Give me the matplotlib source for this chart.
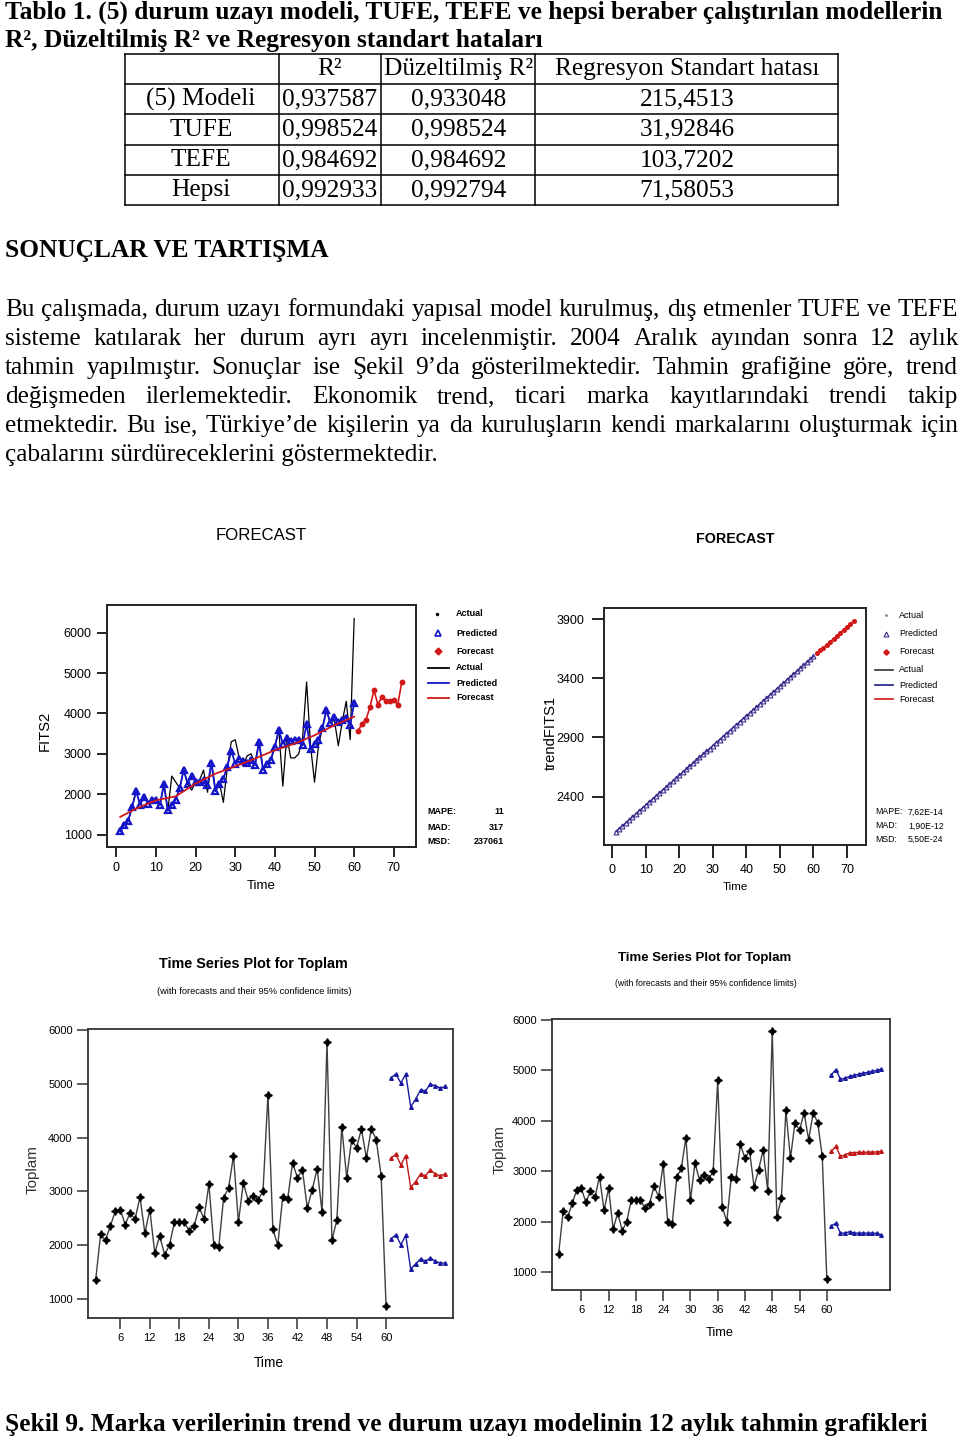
import numpy as np
import matplotlib
matplotlib.use("Agg")
import matplotlib.pyplot as plt
from matplotlib.lines import Line2D
from matplotlib import font_manager

# ---------------- data ----------------
table_header = ["", "R²", "Düzeltilmiş R²", "Regresyon Standart hatası"]
table_rows = ["(5) Modeli", "TUFE", "TEFE", "Hepsi"]
r2_vals = ["0,937587", "0,998524", "0,984692", "0,992933"]
adj_r2_vals = ["0,933048", "0,998524", "0,984692", "0,992794"]
se_vals = ["215,4513", "31,92846", "103,7202", "71,58053"]

time_obs = np.arange(1, 61)
time_fc = np.arange(61, 73)

fits2_actual = [1080, 1250, 1340, 1700, 2080, 1750, 1930, 1780, 1850, 1870,
                1740, 2250, 1600, 2450, 2300, 2150, 2600, 2250, 2100, 2300,
                2350, 2600, 2050, 2800, 2100, 2300, 1800, 2650, 3300, 3350,
                2900, 2700, 2950, 3000, 2750, 3300, 2650, 2750, 2850, 3200,
                3600, 2200, 3450, 2900, 2900, 3000, 3400, 4780, 3200, 2300,
                3200, 3650, 4100, 3750, 3850, 3200, 3800, 4300, 3350, 6350]
fits2_pred = [1080, 1250, 1340, 1690, 2075, 1745, 1935, 1770, 1850, 1870,
              1730, 2250, 1600, 1730, 1870, 2160, 2600, 2265, 2450, 2305,
              2305, 2350, 2220, 2775, 2075, 2265, 2390, 2680, 3075, 2760,
              2885, 2825, 2785, 2845, 2720, 3300, 2600, 2760, 2860, 3175,
              3585, 3255, 3400, 3315, 3340, 3355, 3215, 3750, 3115, 3240,
              3355, 3630, 4080, 3775, 3915, 3790, 3850, 3900, 3710, 4265]
fits2_trend_t = [1, 5, 10, 15, 20, 25, 30, 35, 40, 45, 50, 55, 60]
fits2_trend = [1440, 1645, 1850, 1950, 2265, 2510, 2690, 2885, 3090, 3255, 3460, 3710, 3920]
fits2_fc = [3570, 3750, 3850, 4165, 4570, 4220, 4415, 4315, 4315, 4330, 4220, 4770]

trend_pred = [2104, 2129, 2154, 2179, 2204, 2229, 2254, 2280, 2305, 2330,
              2355, 2380, 2405, 2430, 2455, 2480, 2505, 2530, 2555, 2581,
              2606, 2631, 2656, 2681, 2706, 2731, 2756, 2781, 2806, 2831,
              2856, 2882, 2907, 2932, 2957, 2982, 3007, 3032, 3057, 3082,
              3107, 3132, 3157, 3182, 3208, 3233, 3258, 3283, 3308, 3333,
              3358, 3383, 3408, 3433, 3458, 3483, 3508, 3533, 3559, 3584]
trend_fc = [3609, 3634, 3659, 3684, 3709, 3734, 3759, 3784, 3810, 3835, 3860, 3885]

toplam = [1350, 2200, 2090, 2360, 2630, 2660, 2380, 2600, 2480, 2890,
          2220, 2660, 1850, 2170, 1820, 2000, 2430, 2430, 2430, 2260,
          2350, 2700, 2490, 3130, 2000, 1960, 2880, 3060, 3660, 2420,
          3160, 2820, 2920, 2840, 3000, 4800, 2290, 2000, 2890, 2850,
          3530, 3250, 3400, 2690, 3030, 3420, 2610, 5780, 2090, 2460,
          4200, 3250, 3960, 3810, 4160, 3620, 4160, 3960, 3290, 860]

left_fc = [3615, 3690, 3490, 3665, 3070, 3180, 3320, 3290, 3400, 3320, 3290, 3320]
left_upper = [5114, 5180, 5015, 5180, 4575, 4710, 4885, 4870, 4990, 4965, 4920, 4950]
left_lower = [2115, 2190, 2005, 2180, 1550, 1650, 1740, 1695, 1760, 1695, 1665, 1665]

right_fc = [3390, 3490, 3290, 3320, 3360, 3365, 3370, 3370, 3375, 3375, 3380, 3390]
right_upper = [4910, 5010, 4820, 4840, 4875, 4895, 4920, 4940, 4955, 4975, 4995, 5020]
right_lower = [1915, 1965, 1770, 1770, 1800, 1770, 1770, 1770, 1770, 1770, 1765, 1735]

fits2_stats = [("MAPE:", "11"), ("MAD:", "317"), ("MSD:", "237061")]
trend_stats = [("MAPE:", "7,62E-14"), ("MAD:", "1,90E-12"), ("MSD:", "5,50E-24")]

title_line1 = "Tablo 1. (5) durum uzayı modeli, TUFE, TEFE ve hepsi beraber çalıştırılan modellerin"
title_line2 = "R², Düzeltilmiş R² ve Regresyon standart hataları"
heading = "SONUÇLAR VE TARTIŞMA"
body_lines = [
    "Bu çalışmada, durum uzayı formundaki yapısal model kurulmuş, dış etmenler TUFE ve TEFE",
    "sisteme katılarak her durum ayrı ayrı incelenmiştir. 2004 Aralık ayından sonra 12 aylık",
    "tahmin yapılmıştır. Sonuçlar ise Şekil 9’da gösterilmektedir. Tahmin grafiğine göre, trend",
    "değişmeden ilerlemektedir. Ekonomik trend, ticari marka kayıtlarındaki trendi takip",
    "etmektedir. Bu ise, Türkiye’de kişilerin ya da kuruluşların kendi markalarını oluşturmak için",
    "çabalarını sürdüreceklerini göstermektedir.",
]
caption = "Şekil 9. Marka verilerinin trend ve durum uzayı modelinin 12 aylık tahmin grafikleri"

# ---------------- setup ----------------
W, H = 960, 1442
fig = plt.figure(figsize=(W / 100, H / 100), dpi=100)
fig.patch.set_facecolor("white")
renderer = fig.canvas.get_renderer()

names = {f.name for f in font_manager.fontManager.ttflist}
SERIF = ["Liberation Serif", "DejaVu Serif"]
NARROW = ["Liberation Sans Narrow", "Liberation Sans"] if "Liberation Sans Narrow" in names else ["Liberation Sans"]


def fx(x):
    return x / W


def fy(y):
    return 1 - y / H


def put(x, y, s, size, family=SERIF, ha="left", va="center", **kw):
    return fig.text(fx(x), fy(y), s, fontsize=size, family=family, ha=ha, va=va, **kw)


def fit(x, y, s, width, family=SERIF, ha="left", va="center", rotation=0, size0=12, **kw):
    t = put(x, y, s, size0, family=family, ha=ha, va=va, **kw)
    w = t.get_window_extent(renderer).width
    t.set_fontsize(size0 * width / w)
    t.set_rotation(rotation)
    return t


def fit_size(s, width, family=SERIF, size0=12, **kw):
    t = fig.text(0, 0, s, fontsize=size0, family=family, **kw)
    w = t.get_window_extent(renderer).width
    t.remove()
    return size0 * width / w


def hline(x0, x1, y, lw=1.0, color="black"):
    fig.add_artist(Line2D([fx(x0), fx(x1)], [fy(y), fy(y)], lw=lw, color=color, transform=fig.transFigure))


def vline(x, y0, y1, lw=1.0, color="black"):
    fig.add_artist(Line2D([fx(x), fx(x)], [fy(y0), fy(y1)], lw=lw, color=color, transform=fig.transFigure))


# ---------------- document text ----------------
fit(5, 12, title_line1, 933, weight="bold")
fit(5, 40, title_line2, 533, weight="bold")
fit(5, 250, heading, 323, weight="bold")
fit(5, 1425, caption, 916, weight="bold")

body_size = fit_size(body_lines[-1], 432)
body_y = [310, 339, 368, 397, 426, 455]
for i, (line, y) in enumerate(zip(body_lines, body_y)):
    if i == len(body_lines) - 1:
        put(5, y, line, body_size)
        continue
    words = line.split()
    arts = [put(0, y, w_, body_size) for w_ in words]
    widths = [a.get_window_extent(renderer).width for a in arts]
    gap = (958 - 5 - sum(widths)) / (len(words) - 1)
    x = 5
    for a, w_ in zip(arts, widths):
        a.set_x(fx(x))
        x += w_ + gap

# ---------------- table ----------------
col_x = [125, 279, 381, 535, 838]
row_y = [54, 84, 114, 145, 175, 205]
for y in row_y:
    hline(col_x[0], col_x[-1], y, lw=1.1)
for x in col_x:
    vline(x, row_y[0], row_y[-1], lw=1.1)
tsize = fit_size("Regresyon Standart hatası", 264)
centers = [201, 330, 459, 687]
rc = [(row_y[i] + row_y[i + 1]) / 2 for i in range(5)]
for c, s in zip(centers, table_header):
    if s:
        put(c, rc[0], s, tsize, ha="center")
for i, name in enumerate(table_rows):
    y = rc[i + 1]
    put(centers[0], y, name, tsize, ha="center")
    put(centers[1], y, r2_vals[i], tsize, ha="center")
    put(centers[2], y, adj_r2_vals[i], tsize, ha="center")
    put(centers[3], y, se_vals[i], tsize, ha="center")


# ---------------- charts ----------------
def make_ax(x0, x1, y0, y1, lw=1.4, color="#222222"):
    ax = fig.add_axes([fx(x0), fy(y1), (x1 - x0) / W, (y1 - y0) / H])
    for sp in ax.spines.values():
        sp.set_linewidth(lw)
        sp.set_color(color)
    return ax


BLUE = "#1414c8"
RED = "#d01818"

# top-left
ax1 = make_ax(107, 416, 605, 847)
ax1.plot(time_obs, fits2_actual, color="black", lw=0.9, zorder=2)
ax1.plot(time_obs, fits2_pred, color=BLUE, lw=1.3, marker="^", ms=5, mfc="none",
         mec=BLUE, mew=1.6, zorder=3)
ax1.plot(fits2_trend_t, fits2_trend, color=RED, lw=1.3, zorder=4)
ax1.plot(time_fc, fits2_fc, color=RED, lw=1.2, marker="o", ms=3.2, zorder=4)
ax1.set_xlim(-2.35, 75.6)
ax1.set_ylim(694, 6686)
ax1.set_xticks(range(0, 71, 10))
ax1.set_yticks(range(1000, 6001, 1000))
ax1.tick_params(direction="out", length=7, width=1.2, pad=4, labelsize=9)
for lab in ax1.get_xticklabels() + ax1.get_yticklabels():
    lab.set_family(NARROW)

fit(261, 535, "FORECAST", 91, family=NARROW, ha="center")
fit(45, 731, "FITS2", 40, family=NARROW, ha="center", rotation=90)
fit(261, 886, "Time", 29, family=NARROW, ha="center")

# legend top-left
leg_y = [614, 633, 651, 668, 683, 698]
fig.add_artist(Line2D([fx(437)], [fy(614)], marker="o", ms=1.5, color="black", transform=fig.transFigure))
fig.add_artist(Line2D([fx(438)], [fy(633)], marker="^", ms=5, mfc="none", mec=BLUE, mew=1.2, transform=fig.transFigure))
fig.add_artist(Line2D([fx(438)], [fy(651)], marker="D", ms=3.5, color=RED, transform=fig.transFigure))
for y, c in zip(leg_y[3:], ["black", BLUE, RED]):
    hline(428, 449, y, lw=1.3, color=c)
for y, s in zip(leg_y, ["Actual", "Predicted", "Forecast", "Actual", "Predicted", "Forecast"]):
    put(456, y, s, 6.5, family=NARROW, weight="bold")
for y, (lab, val) in zip([812, 827, 841], fits2_stats):
    put(427, y, lab, 6.5, family=NARROW, weight="bold")
    put(504, y, val, 6.5, family=NARROW, weight="bold", ha="right")

# top-right
ax2 = make_ax(604, 866, 608, 845)
ax2.plot(time_obs, trend_pred, color="#3a2a8c", lw=1.0, marker="^", ms=3.5, mfc="none",
         mec="#3a2a8c", mew=0.8)
ax2.plot(time_fc, trend_fc, color=RED, lw=1.0, marker="o", ms=2.6)
ax2.set_xlim(-2.5, 75.7)
ax2.set_ylim(1991, 3993)
ax2.set_xticks(range(0, 71, 10))
ax2.set_yticks([2400, 2900, 3400, 3900])
ax2.tick_params(direction="out", length=9, width=1.2, pad=5, labelsize=9)
for lab in ax2.get_xticklabels() + ax2.get_yticklabels():
    lab.set_family(NARROW)

fit(735, 539, "FORECAST", 78, family=NARROW, ha="center", weight="bold")
fit(551, 733, "trendFITS1", 74, family=NARROW, ha="center", rotation=90)
fit(735, 887, "Time", 25, family=NARROW, ha="center")

fig.add_artist(Line2D([fx(886)], [fy(615)], marker="o", ms=1.0, color="#888888", transform=fig.transFigure))
fig.add_artist(Line2D([fx(886)], [fy(634)], marker="^", ms=3.5, mfc="none", mec="#3a2a8c", mew=0.8, transform=fig.transFigure))
fig.add_artist(Line2D([fx(886)], [fy(652)], marker="D", ms=2.8, color=RED, transform=fig.transFigure))
leg2_y = [615, 634, 652, 670, 685, 699]
for y, c in zip(leg2_y[3:], ["#333333", "#1a1a8c", RED]):
    hline(875, 893, y, lw=1.2, color=c)
for y, s in zip(leg2_y, ["Actual", "Predicted", "Forecast", "Actual", "Predicted", "Forecast"]):
    put(899, y, s, 6.5, family=NARROW)
for y, (lab, val) in zip([812, 826, 839], trend_stats):
    put(875, y, lab, 6.3, family=NARROW)
    put(908, y, val, 6.3, family=NARROW)


def toplam_panel(box, xlim, ylim, fc, up, lo, title_xy, title_w, sub_xy, sub_w, ylab_xy, xlab_xy, xlab_w):
    ax = make_ax(*box, lw=1.3, color="#333333")
    ax.plot(time_obs, toplam, color="#404040", lw=1.0, marker=(4, 1, 0), ms=5.5,
            mfc="black", mec="black")
    ax.plot(time_fc, up, color="#1a1aa0", lw=1.0, marker="^", ms=2.6)
    ax.plot(time_fc, fc, color="#c01818", lw=1.0, marker="^", ms=2.6)
    ax.plot(time_fc, lo, color="#1a1aa0", lw=1.0, marker="^", ms=2.6)
    ax.set_xlim(*xlim)
    ax.set_ylim(*ylim)
    ax.set_xticks(range(6, 61, 6))
    ax.set_yticks(range(1000, 6001, 1000))
    ax.tick_params(direction="out", length=8, width=1.1, pad=3, labelsize=8, color="#333333")
    for lab in ax.get_xticklabels() + ax.get_yticklabels():
        lab.set_family(NARROW)
    fit(title_xy[0], title_xy[1], "Time Series Plot for Toplam", title_w, family=NARROW, ha="center", weight="bold")
    fit(sub_xy[0], sub_xy[1], "(with forecasts and their 95% confidence limits)", sub_w, family=NARROW, ha="center")
    put(ylab_xy[0], ylab_xy[1], "Toplam", 11, family=NARROW, ha="center", rotation=90, color="#333333")
    fit(xlab_xy[0], xlab_xy[1], "Time", xlab_w, family=NARROW, ha="center")
    return ax


toplam_panel((88, 453, 1029, 1318), (-0.56, 73.6), (641, 6020), left_fc, left_upper, left_lower,
             (253, 964), 187, (254, 991), 194, (33, 1170), (269, 1363), 30)
toplam_panel((552, 890, 1019, 1290), (-0.45, 73.9), (643, 6013), right_fc, right_upper, right_lower,
             (705, 958), 173, (706, 984), 181, (500, 1150), (720, 1333), 28)

fig.savefig("out.png", dpi=100, facecolor="white")
